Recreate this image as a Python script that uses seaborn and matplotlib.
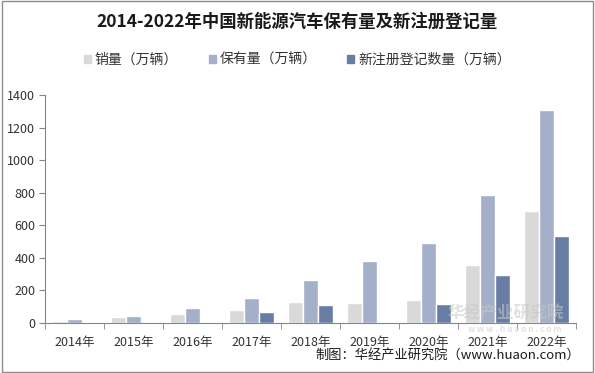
import numpy as np
import pandas as pd
import seaborn as sns
import matplotlib.pyplot as plt
from matplotlib.patches import Rectangle

# data
years = ['2014年', '2015年', '2016年', '2017年', '2018年', '2019年', '2020年', '2021年', '2022年']
sales = [7.5, 33.1, 50.7, 77.7, 125.6, 120.6, 136.7, 352.1, 688.7]
holdings = [22, 42, 91, 153, 261, 381, 492, 784, 1310]
new_reg = [np.nan, np.nan, np.nan, 65, 107, np.nan, 116, 295, 535]
series = ['销量（万辆）', '保有量（万辆）', '新注册登记数量（万辆）']
colors = ['#D9D9D9', '#A4B0C9', '#687DA3']

df = pd.DataFrame({'year': years * 3,
                   'value': sales + holdings + new_reg,
                   'series': [series[0]] * 9 + [series[1]] * 9 + [series[2]] * 9})

sns.set_style('white')
plt.rcParams['font.family'] = ['Noto Sans CJK SC', 'DejaVu Sans']

fig = plt.figure(figsize=(5.95, 3.73), dpi=100)
ax = fig.add_axes([45 / 595, 1 - 322.7 / 373, 531 / 595, (322.7 - 95) / 373])

sns.barplot(data=df, x='year', y='value', hue='series', palette=colors,
            width=0.75, saturation=1, ax=ax, legend=False)

ax.set_ylim(0, 1400)
ax.set_xlim(-0.5, 8.5)
ax.set_yticks(range(0, 1401, 200))
ax.set_xlabel('')
ax.set_ylabel('')
for s in ['top', 'right']:
    ax.spines[s].set_visible(False)
for s in ['left', 'bottom']:
    ax.spines[s].set_color('#868686')
    ax.spines[s].set_linewidth(0.8)
ax.tick_params(axis='y', left=True, length=4, color='#868686', labelsize=9, labelcolor='#333333', pad=3)
ax.tick_params(axis='x', bottom=False, labelsize=9, labelcolor='#333333', pad=6)
ax.set_xticks(np.arange(-0.5, 9, 1), minor=True)
ax.tick_params(axis='x', which='minor', bottom=True, length=4, color='#868686')

# legend
handles = [Rectangle((0, 0), 1, 1, color=c) for c in colors]
fig.legend(handles, series, loc='center', bbox_to_anchor=(0.5, 1 - 60 / 373), ncol=3,
           frameon=False, fontsize=10, handlelength=0.5, handleheight=0.5,
           handletextpad=0.3, columnspacing=2.2, labelcolor='#333333')

fig.text(0.5, 1 - 22 / 373, '2014-2022年中国新能源汽车保有量及新注册登记量', ha='center', va='center',
         fontsize=12.5, fontweight='bold', color='#1a1a1a')

# watermark (faint, just above the axis line)
fig.text(0.85, 1 - 313 / 373, '华经产业研究院', ha='center', va='center', fontsize=12,
         fontweight='bold', color='#c8c8c8', alpha=0.55)
fig.text(0.865, 1 - 329 / 373, 'w w w . h u a o n . c o m', ha='center', va='center', fontsize=6,
         fontweight='bold', color='#c8c8c8', alpha=0.55)

fig.text(0.975, 1 - 355 / 373, '制图：华经产业研究院（www.huaon.com）', ha='right', va='center',
         fontsize=9.5, color='#1a1a1a')

# outer frame
fig.patches.append(Rectangle((0.004, 0.004), 0.992, 0.992, transform=fig.transFigure,
                             fill=False, edgecolor='#8c8c8c', linewidth=1))

fig.savefig('out.png', dpi=100)
